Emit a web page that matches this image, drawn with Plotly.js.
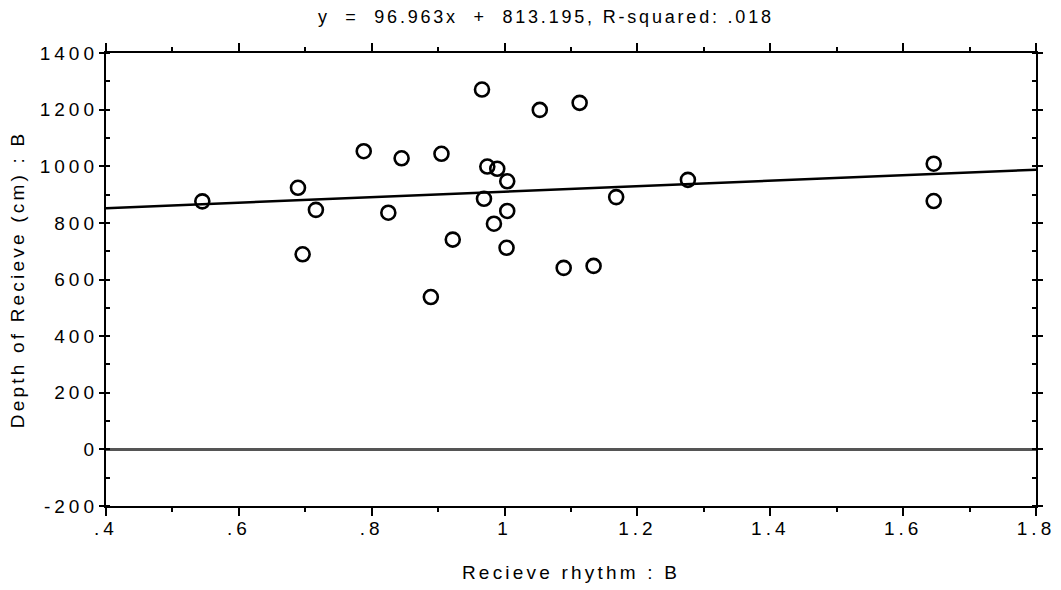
<!DOCTYPE html>
<html>
<head>
<meta charset="utf-8">
<script src="https://cdn.plot.ly/plotly-3.0.1.min.js"></script>
<style>
  html, body { margin: 0; padding: 0; background: #fff; }
  #chart { width: 1061px; height: 590px; }
  .xtick text, .ytick text { letter-spacing: 4px; }
  .g-gtitle text { letter-spacing: 2.8px; }
  .g-xtitle text, .g-ytitle text { letter-spacing: 3.2px; }
</style>
</head>
<body>
<div id="chart"></div>
<script>
// Receive rhythm (x) against depth of receive in cm (y), with least-squares fit
const rhythm = [0.545, 0.689, 0.696, 0.716, 0.788, 0.825, 0.845, 0.889, 0.905, 0.922,
                0.966, 0.969, 0.974, 0.984, 0.989, 1.003, 1.004, 1.004, 1.053, 1.089,
                1.113, 1.134, 1.168, 1.276, 1.646, 1.646];
const depth  = [876, 924, 689, 846, 1053, 836, 1028, 538, 1044, 741,
                1271, 885, 999, 797, 991, 712, 947, 842, 1199, 641,
                1224, 648, 891, 952, 1009, 877];

// Fit reported in the title
const slope = 96.963;
const intercept = 813.195;
const rSquared = '.018';
const fitX = [0.4, 1.8];
const fitY = fitX.map(v => slope * v + intercept);

const xTickVals = [0.4, 0.6, 0.8, 1.0, 1.2, 1.4, 1.6, 1.8];
const xTickText = ['.4', '.6', '.8', '1', '1.2', '1.4', '1.6', '1.8'];
const yTickVals = [-200, 0, 200, 400, 600, 800, 1000, 1200, 1400];
const yTickText = ['-200', '0', '200', '400', '600', '800', '1000', '1200', '1400'];

const family = 'Liberation Sans, Arial, sans-serif';
const f = size => ({ family: family, size: size, color: '#000' });

const traces = [
  {
    x: fitX, y: fitY, type: 'scatter', mode: 'lines',
    line: { color: '#000', width: 2.5 }, hoverinfo: 'skip'
  },
  {
    x: rhythm, y: depth, type: 'scatter', mode: 'markers',
    marker: { symbol: 'circle-open', size: 14, color: '#000', line: { width: 2.6, color: '#000' } }
  }
];

const layout = {
  width: 1061, height: 590,
  margin: { l: 106, r: 25, t: 53, b: 84 },
  paper_bgcolor: '#fff', plot_bgcolor: '#fff',
  showlegend: false,
  font: f(19),
  title: {
    text: 'y  =  96.963x  +  813.195, R-squared: ' + rSquared,
    font: f(18),
    xref: 'paper', x: 0.473, xanchor: 'center',
    yref: 'container', y: 1 - 17 / 590, yanchor: 'middle'
  },
  xaxis: {
    range: [0.4, 1.8], tickvals: xTickVals, ticktext: xTickText,
    showgrid: false, zeroline: false,
    showline: true, linecolor: '#000', linewidth: 2.2, mirror: 'ticks',
    ticks: 'outside', ticklen: 8, tickwidth: 2, tickcolor: '#000',
    ticklabelstandoff: -4,
    minor: { dtick: 0.1, ticks: 'outside', ticklen: 4, tickwidth: 2, tickcolor: '#000', showgrid: false },
    tickfont: f(19),
    title: { text: 'Recieve rhythm : B', font: f(19), standoff: 28 }
  },
  yaxis: {
    range: [-200, 1400], tickvals: yTickVals, ticktext: yTickText,
    showgrid: false,
    zeroline: true, zerolinecolor: '#555', zerolinewidth: 2.5,
    showline: true, linecolor: '#000', linewidth: 2.2, mirror: 'ticks',
    ticks: 'outside', ticklen: 5, tickwidth: 2, tickcolor: '#000',
    ticklabelstandoff: -3,
    minor: { dtick: 100, ticks: 'inside', ticklen: 4, tickwidth: 2, tickcolor: '#000', showgrid: false },
    tickfont: f(19),
    title: { text: 'Depth of Recieve (cm) : B', font: f(19), standoff: 10 }
  }
};

Plotly.newPlot('chart', traces, layout, { displayModeBar: false, staticPlot: true });
</script>
</body>
</html>
